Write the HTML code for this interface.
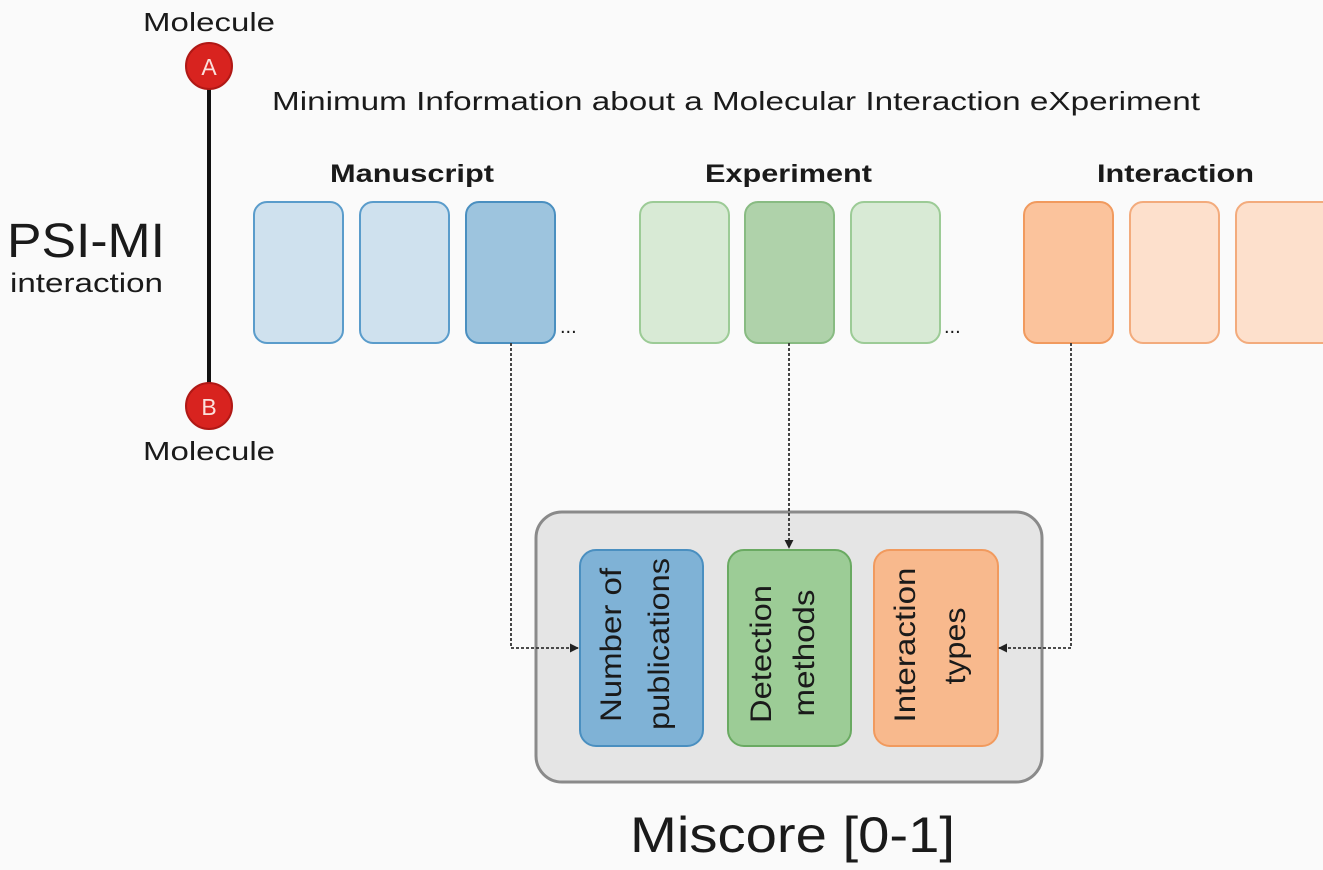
<!DOCTYPE html>
<html><head><meta charset="utf-8"><style>
html,body{margin:0;padding:0;background:#fafafa;}
svg{display:block;}
text{font-family:"Liberation Sans",sans-serif;fill:#1a1a1a;}
</style></head><body>
<svg width="1323" height="870" viewBox="0 0 1323 870" xmlns="http://www.w3.org/2000/svg">
<defs>
<marker id="ah" viewBox="0 0 10 10" refX="9" refY="5" markerWidth="9" markerHeight="9" orient="auto-start-reverse" markerUnits="userSpaceOnUse"><path d="M0,0 L10,5 L0,10 z" fill="#222"/></marker>
</defs>
<rect width="1323" height="870" fill="#fafafa"/>
<line x1="209" y1="66" x2="209" y2="406" stroke="#111" stroke-width="4"/>
<circle cx="209" cy="66" r="23" fill="#d8231f" stroke="#b01815" stroke-width="2"/>
<circle cx="209" cy="406" r="23" fill="#d8231f" stroke="#b01815" stroke-width="2"/>
<text x="209" y="75" font-size="23" text-anchor="middle" style="fill:#fbe0dc">A</text>
<text x="209" y="415" font-size="23" text-anchor="middle" style="fill:#fbe0dc">B</text>
<text x="143" y="31" font-size="26" textLength="132" lengthAdjust="spacingAndGlyphs">Molecule</text>
<text x="143" y="460" font-size="26" textLength="132" lengthAdjust="spacingAndGlyphs">Molecule</text>
<text x="7" y="257" font-size="48" textLength="158" lengthAdjust="spacingAndGlyphs">PSI-MI</text>
<text x="10" y="292" font-size="27" textLength="153" lengthAdjust="spacingAndGlyphs">interaction</text>
<text x="272" y="110" font-size="26" textLength="928" lengthAdjust="spacingAndGlyphs">Minimum Information about a Molecular Interaction eXperiment</text>
<text x="330" y="182" font-size="25" font-weight="bold" textLength="164" lengthAdjust="spacingAndGlyphs">Manuscript</text>
<text x="705" y="182" font-size="25" font-weight="bold" textLength="167" lengthAdjust="spacingAndGlyphs">Experiment</text>
<text x="1097" y="182" font-size="25" font-weight="bold" textLength="157" lengthAdjust="spacingAndGlyphs">Interaction</text>
<g stroke-width="2">
<rect x="254" y="202" width="89" height="141" rx="13" fill="#cfe1ee" stroke="#5a9ccb"/>
<rect x="360" y="202" width="89" height="141" rx="13" fill="#cfe1ee" stroke="#5a9ccb"/>
<rect x="466" y="202" width="89" height="141" rx="13" fill="#9dc4de" stroke="#4a8fc0"/>
<rect x="640" y="202" width="89" height="141" rx="13" fill="#d8ead5" stroke="#9ccb96"/>
<rect x="745" y="202" width="89" height="141" rx="13" fill="#afd2aa" stroke="#88bb82"/>
<rect x="851" y="202" width="89" height="141" rx="13" fill="#d8ead5" stroke="#9ccb96"/>
<rect x="1024" y="202" width="89" height="141" rx="13" fill="#fbc39c" stroke="#f19a5e"/>
<rect x="1130" y="202" width="89" height="141" rx="13" fill="#fde0cc" stroke="#f3ab7c"/>
<rect x="1236" y="202" width="100" height="141" rx="13" fill="#fde0cc" stroke="#f3ab7c"/>
</g>
<text x="560" y="333" font-size="20">...</text>
<text x="944" y="333" font-size="20">...</text>
<rect x="536" y="512" width="506" height="270" rx="26" fill="#e5e5e5" stroke="#8a8a8a" stroke-width="3"/>
<rect x="580" y="550" width="123" height="196" rx="16" fill="#7fb2d6" stroke="#4a8fc0" stroke-width="2"/>
<rect x="728" y="550" width="123" height="196" rx="16" fill="#9ccc96" stroke="#6aaa62" stroke-width="2"/>
<rect x="874" y="550" width="124" height="196" rx="16" fill="#f8b98d" stroke="#f19a5e" stroke-width="2"/>
<g font-size="30">
<text transform="translate(641,645) rotate(-90)" text-anchor="middle" x="0" y="-20" textLength="154" lengthAdjust="spacingAndGlyphs">Number of</text>
<text transform="translate(641,644) rotate(-90)" text-anchor="middle" x="0" y="28" textLength="172" lengthAdjust="spacingAndGlyphs">publications</text>
<text transform="translate(790,654) rotate(-90)" text-anchor="middle" x="0" y="-19" textLength="138" lengthAdjust="spacingAndGlyphs">Detection</text>
<text transform="translate(790,653) rotate(-90)" text-anchor="middle" x="0" y="24" textLength="127" lengthAdjust="spacingAndGlyphs">methods</text>
<text transform="translate(936,645) rotate(-90)" text-anchor="middle" x="0" y="-21" textLength="155" lengthAdjust="spacingAndGlyphs">Interaction</text>
<text transform="translate(936,646) rotate(-90)" text-anchor="middle" x="0" y="29" textLength="77" lengthAdjust="spacingAndGlyphs">types</text>
</g>
<g fill="none" stroke="#333" stroke-width="1.8" stroke-dasharray="3,2">
<path d="M511,343 V648 H578" marker-end="url(#ah)"/>
<path d="M789,343 V548" marker-end="url(#ah)"/>
<path d="M1071,343 V648 H999" marker-end="url(#ah)"/>
</g>
<text x="630" y="852" font-size="50" textLength="325" lengthAdjust="spacingAndGlyphs">Miscore [0-1]</text>
</svg>
</body></html>
